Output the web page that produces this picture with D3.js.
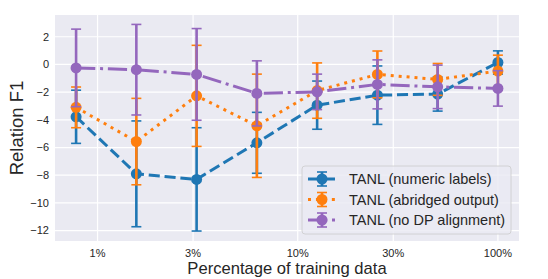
<!DOCTYPE html>
<html>
<head>
<meta charset="utf-8">
<script src="https://cdn.jsdelivr.net/npm/d3@7"></script>
<style>
  body { margin: 0; background: #fff; }
  text { font-family: "Liberation Sans", Arial, sans-serif; fill: #262626; }
</style>
</head>
<body>
<svg></svg>
<script>
var width = 548;
var height = 279;

// fraction of training data (%)
var fractions = [0.78125, 1.5625, 3.125, 6.25, 12.5, 25, 50, 100];
var xTicks = [1, 3, 10, 30, 100];
var xTickLabels = ["1%", "3%", "10%", "30%", "100%"];
var yTicks = [-12, -10, -8, -6, -4, -2, 0, 2];

var numericMean = [-3.78, -7.90, -8.30, -5.66, -2.94, -2.22, -2.14, 0.14];
var numericErr = [1.92, 3.82, 3.73, 2.20, 1.74, 2.11, 1.23, 0.84];
var abridgedMean = [-3.10, -5.57, -2.27, -4.43, -1.89, -0.72, -1.08, -0.48];
var abridgedErr = [1.47, 3.12, 3.65, 3.73, 2.00, 1.69, 1.15, 1.15];
var noAlignMean = [-0.25, -0.38, -0.72, -2.09, -1.98, -1.44, -1.62, -1.73];
var noAlignErr = [2.80, 3.27, 3.31, 2.35, 1.28, 1.77, 1.57, 1.28];

var seriesNames = ["TANL (numeric labels)", "TANL (abridged output)", "TANL (no DP alignment)"];
var seriesColors = ["#1f77b4", "#ff7f0e", "#9467bd"];
var seriesDash = ["11.1,4.8", "3,4.95", "19.2,4.8,3,4.8"];

var series = [
  { name: seriesNames[0], mean: numericMean, err: numericErr },
  { name: seriesNames[1], mean: abridgedMean, err: abridgedErr },
  { name: seriesNames[2], mean: noAlignMean, err: noAlignErr }
].map((s, i) => ({
  ...s,
  color: seriesColors[i],
  dash: seriesDash[i],
  points: fractions.map((f, j) => ({ x: f, y: s.mean[j], e: s.err[j] }))
}));

var plot = { left: 55, right: 519, top: 15, bottom: 241 };

// log-space 5% margins like matplotlib
var lo = Math.log10(d3.min(fractions)), hi = Math.log10(d3.max(fractions));
var pad = (hi - lo) * 0.05;
var x = d3.scaleLog()
  .domain([Math.pow(10, lo - pad), Math.pow(10, hi + pad)])
  .range([plot.left, plot.right]);

var y = d3.scaleLinear()
  .domain([-12.75, 3.57])
  .range([plot.bottom, plot.top]);

var svg = d3.select("svg")
    .attr("width", width)
    .attr("height", height);

svg.append("rect")
    .attr("x", plot.left)
    .attr("y", plot.top)
    .attr("width", plot.right - plot.left)
    .attr("height", plot.bottom - plot.top)
    .attr("fill", "#eaeaf2");

// grid
svg.append("g")
  .selectAll("line")
  .data(yTicks)
  .join("line")
    .attr("x1", plot.left)
    .attr("x2", plot.right)
    .attr("y1", d => y(d))
    .attr("y2", d => y(d))
    .attr("stroke", "#fff")
    .attr("stroke-width", 1.2);

svg.append("g")
  .selectAll("line")
  .data(xTicks)
  .join("line")
    .attr("x1", d => x(d))
    .attr("x2", d => x(d))
    .attr("y1", plot.top)
    .attr("y2", plot.bottom)
    .attr("stroke", "#fff")
    .attr("stroke-width", 1.2);

// tick labels
svg.append("g")
  .selectAll("text")
  .data(yTicks)
  .join("text")
    .attr("x", plot.left - 6)
    .attr("y", d => y(d))
    .attr("dy", "0.35em")
    .style("text-anchor", "end")
    .style("font-size", "11px")
    .text(d => d3.format("d")(d).replace("-", "\u2212"));

svg.append("g")
  .selectAll("text")
  .data(xTicks)
  .join("text")
    .attr("x", d => x(d))
    .attr("y", 257)
    .style("text-anchor", "middle")
    .style("font-size", "11px")
    .text((d, i) => xTickLabels[i]);

// axis titles
svg.append("text")
    .attr("x", (plot.left + plot.right) / 2)
    .attr("y", 274)
    .style("text-anchor", "middle")
    .style("font-size", "16.6px")
    .text("Percentage of training data");

svg.append("text")
    .attr("transform", `translate(23, ${(plot.top + plot.bottom) / 2}) rotate(-90)`)
    .style("text-anchor", "middle")
    .style("font-size", "18.5px")
    .text("Relation F1");

var line = d3.line()
  .x(d => x(d.x))
  .y(d => y(d.y));

var capW = 5;

series.forEach(s => {
  var g = svg.append("g");

  var bars = g.selectAll(".bar")
    .data(s.points)
    .join("g")
      .classed("bar", true);

  bars.append("line")
      .attr("x1", d => x(d.x))
      .attr("x2", d => x(d.x))
      .attr("y1", d => y(d.y - d.e))
      .attr("y2", d => y(d.y + d.e))
      .attr("stroke", s.color)
      .attr("stroke-width", 2.6);

  bars.selectAll(".cap")
    .data(d => [d.y - d.e, d.y + d.e].map(v => ({ x: d.x, v: v })))
    .join("line")
      .classed("cap", true)
      .attr("x1", d => x(d.x) - capW)
      .attr("x2", d => x(d.x) + capW)
      .attr("y1", d => y(d.v))
      .attr("y2", d => y(d.v))
      .attr("stroke", s.color)
      .attr("stroke-width", 1.6);

  g.append("path")
      .datum(s.points)
      .attr("d", line)
      .attr("fill", "none")
      .attr("stroke", s.color)
      .attr("stroke-width", 3)
      .attr("stroke-dasharray", s.dash);

  g.selectAll(".dot")
    .data(s.points)
    .join("circle")
      .classed("dot", true)
      .attr("cx", d => x(d.x))
      .attr("cy", d => y(d.y))
      .attr("r", 5.5)
      .attr("fill", s.color);
});

// legend
var legend = svg.append("g")
    .attr("transform", "translate(302, 166)");

legend.append("rect")
    .attr("width", 209)
    .attr("height", 68)
    .attr("rx", 3)
    .attr("fill", "#eaeaf2")
    .attr("fill-opacity", 0.8)
    .attr("stroke", "#cccccc")
    .attr("stroke-width", 0.8);

var entry = legend.selectAll(".entry")
  .data(series)
  .join("g")
    .classed("entry", true)
    .attr("transform", (d, i) => `translate(0, ${13 + i * 20.5})`);

entry.append("line")
    .attr("x1", 6)
    .attr("x2", 34)
    .attr("stroke", d => d.color)
    .attr("stroke-width", 3)
    .attr("stroke-dasharray", d => d.dash);

entry.append("line")
    .attr("x1", 20)
    .attr("x2", 20)
    .attr("y1", -7)
    .attr("y2", 7)
    .attr("stroke", d => d.color)
    .attr("stroke-width", 2.6);

entry.selectAll(".cap")
  .data(d => [-7, 7].map(v => ({ v: v, color: d.color })))
  .join("line")
    .classed("cap", true)
    .attr("x1", 20 - capW)
    .attr("x2", 20 + capW)
    .attr("y1", d => d.v)
    .attr("y2", d => d.v)
    .attr("stroke", d => d.color)
    .attr("stroke-width", 1.6);

entry.append("circle")
    .attr("cx", 20)
    .attr("r", 5.5)
    .attr("fill", d => d.color);

entry.append("text")
    .attr("x", 47)
    .attr("dy", "0.35em")
    .style("font-size", "14.5px")
    .text(d => d.name);
</script>
</body>
</html>
